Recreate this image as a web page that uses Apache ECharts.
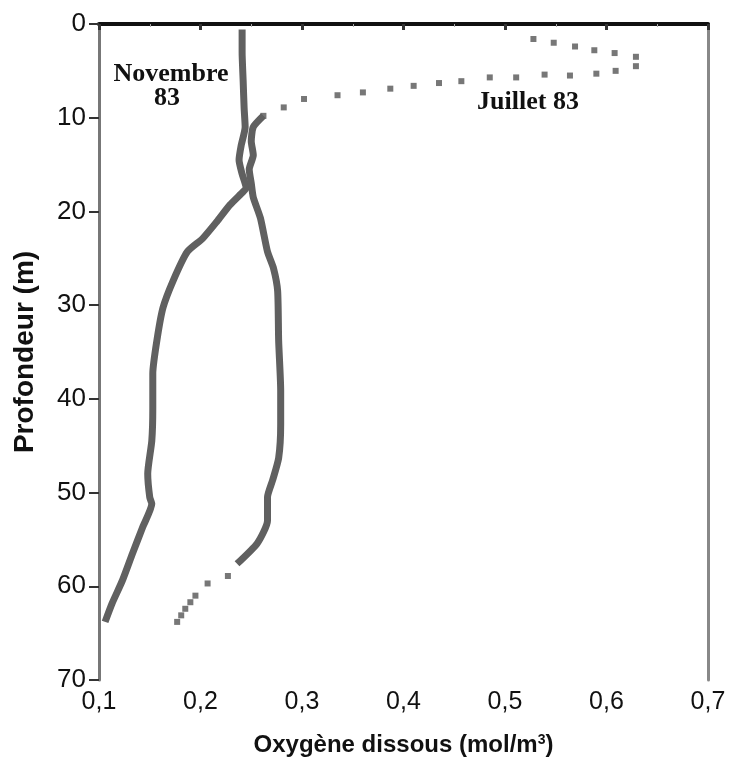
<!DOCTYPE html>
<html>
<head>
<meta charset="utf-8">
<script src="https://cdn.jsdelivr.net/npm/echarts@6/dist/echarts.min.js"></script>
<style>html,body{margin:0;padding:0;background:#fff}#c{width:732px;height:763px}</style>
</head>
<body>
<div id="c"></div>
<script>
// ---- Data ----
const xTicks = [0.1, 0.2, 0.3, 0.4, 0.5, 0.6, 0.7];
const yTicks = [0, 10, 20, 30, 40, 50, 60, 70];

// Juillet 83: sparse surface points (dotted)
const juilletSurfaceO2 = [0.528, 0.548, 0.569, 0.588, 0.608, 0.629, 0.629, 0.609, 0.590, 0.564, 0.539, 0.511, 0.485, 0.457, 0.435, 0.410, 0.387, 0.360, 0.335, 0.302, 0.282, 0.262];
const juilletSurfaceDepth = [1.6, 2.0, 2.4, 2.8, 3.1, 3.5, 4.5, 5.0, 5.3, 5.5, 5.4, 5.7, 5.7, 6.1, 6.3, 6.6, 6.9, 7.3, 7.6, 8.0, 8.9, 9.8];

// Juillet 83: dense profile below 10 m (solid)
const juilletO2 = [0.262, 0.252, 0.250, 0.252, 0.248, 0.250, 0.252, 0.259, 0.266, 0.272, 0.276, 0.277, 0.279, 0.279, 0.277, 0.271, 0.266, 0.266, 0.256, 0.236];
const juilletDepth = [9.8, 11.0, 12.5, 14.0, 15.5, 17.0, 18.5, 20.7, 24.3, 26.1, 28.5, 33.8, 39.1, 42.7, 46.3, 48.7, 50.5, 53.0, 55.4, 57.6];

// Juillet 83: sparse bottom points (dotted)
const juilletDeepO2 = [0.227, 0.207, 0.195, 0.190, 0.185, 0.181, 0.177];
const juilletDeepDepth = [58.9, 59.7, 61.0, 61.7, 62.4, 63.1, 63.8];

// Novembre 83 (solid)
const novembreO2 = [0.241, 0.241, 0.242, 0.243, 0.244, 0.240, 0.238, 0.241, 0.245, 0.242, 0.229, 0.216, 0.202, 0.187, 0.173, 0.163, 0.157, 0.153, 0.153, 0.152, 0.148, 0.150, 0.152, 0.143, 0.133, 0.123, 0.113, 0.106];
const novembreDepth = [0.6, 3.0, 6.0, 9.0, 11.0, 13.0, 14.5, 16.0, 17.5, 17.9, 19.3, 21.1, 22.9, 24.3, 27.4, 30.3, 33.8, 37.3, 41.0, 44.5, 48.0, 50.5, 51.2, 53.7, 56.5, 59.4, 61.8, 63.8];

const zip = (a, b) => a.map((v, i) => [v, b[i]]);

const chart = echarts.init(document.getElementById('c'), null, {renderer: 'canvas'});
const lineCol = '#606060';
const sans = '"Liberation Sans", Arial, sans-serif';
const serif = '"Liberation Serif", "Times New Roman", serif';

chart.setOption({
  animation: false,
  backgroundColor: '#fff',
  grid: {left: 99, right: 24, top: 24, bottom: 83, containLabel: false},
  xAxis: [{
    type: 'value', min: xTicks[0], max: xTicks[xTicks.length - 1], interval: 0.1,
    position: 'bottom',
    name: 'Oxygène dissous (mol/m{sup|3})', nameLocation: 'middle', nameGap: 53,
    nameTextStyle: {fontFamily: sans, fontWeight: 'bold', fontSize: 24, color: '#111',
      rich: {sup: {fontFamily: sans, fontWeight: 'bold', fontSize: 14, color: '#111', verticalAlign: 'top', padding: [0, 0, 10, 0]}}},
    axisLine: {lineStyle: {color: '#111', width: 4}},
    axisTick: {show: true, inside: false, length: 6, lineStyle: {color: '#333', width: 3}},
    minorTick: {show: true, splitNumber: 2, length: 3, lineStyle: {color: '#aaa', width: 1}},
    axisLabel: {fontFamily: sans, fontSize: 25, color: '#111', margin: 10,
      formatter: v => v.toFixed(1).replace('.', ',')},
    splitLine: {show: false}
  }, {
    type: 'value', min: xTicks[0], max: xTicks[xTicks.length - 1], position: 'top',
    axisLine: {show: true, lineStyle: {color: '#111', width: 3}},
    axisTick: {show: false}, axisLabel: {show: false}, splitLine: {show: false}
  }],
  yAxis: [{
    type: 'value', min: yTicks[0], max: yTicks[yTicks.length - 1], interval: 10, inverse: true,
    name: 'Profondeur (m)', nameLocation: 'middle', nameGap: 60, nameRotate: 90,
    nameTextStyle: {fontFamily: sans, fontWeight: 'bold', fontSize: 28, color: '#111'},
    axisLine: {show: true, lineStyle: {color: '#777', width: 3}},
    axisTick: {show: true, inside: false, length: 10, lineStyle: {color: '#333', width: 2}},
    axisLabel: {fontFamily: sans, fontSize: 26, color: '#111', margin: 13},
    splitLine: {show: false}
  }, {
    type: 'value', min: yTicks[0], max: yTicks[yTicks.length - 1], inverse: true, position: 'right',
    axisLine: {show: true, lineStyle: {color: '#888', width: 3}},
    axisTick: {show: false}, axisLabel: {show: false}, splitLine: {show: false}
  }],
  series: [
    {name: 'Novembre 83', type: 'line', data: zip(novembreO2, novembreDepth), showSymbol: false,
     lineStyle: {color: lineCol, width: 7}, smooth: 0.2},
    {name: 'Juillet 83', type: 'line', data: zip(juilletO2, juilletDepth), showSymbol: false,
     lineStyle: {color: lineCol, width: 7}, smooth: 0.2},
    {name: 'Juillet 83 (surface)', type: 'scatter', data: zip(juilletSurfaceO2, juilletSurfaceDepth),
     symbol: 'rect', symbolSize: 6, itemStyle: {color: '#555'}},
    {name: 'Juillet 83 (fond)', type: 'scatter', data: zip(juilletDeepO2, juilletDeepDepth),
     symbol: 'rect', symbolSize: 6, itemStyle: {color: '#555'}}
  ],
  graphic: [
    {type: 'text', x: 171, y: 74, style: {text: 'Novembre', font: 'bold 26px ' + serif, fill: '#111', textAlign: 'center', textVerticalAlign: 'middle'}},
    {type: 'text', x: 167, y: 98, style: {text: '83', font: 'bold 26px ' + serif, fill: '#111', textAlign: 'center', textVerticalAlign: 'middle'}},
    {type: 'text', x: 528, y: 102, style: {text: 'Juillet 83', font: 'bold 26px ' + serif, fill: '#111', textAlign: 'center', textVerticalAlign: 'middle'}}
  ]
});
</script>
</body>
</html>
